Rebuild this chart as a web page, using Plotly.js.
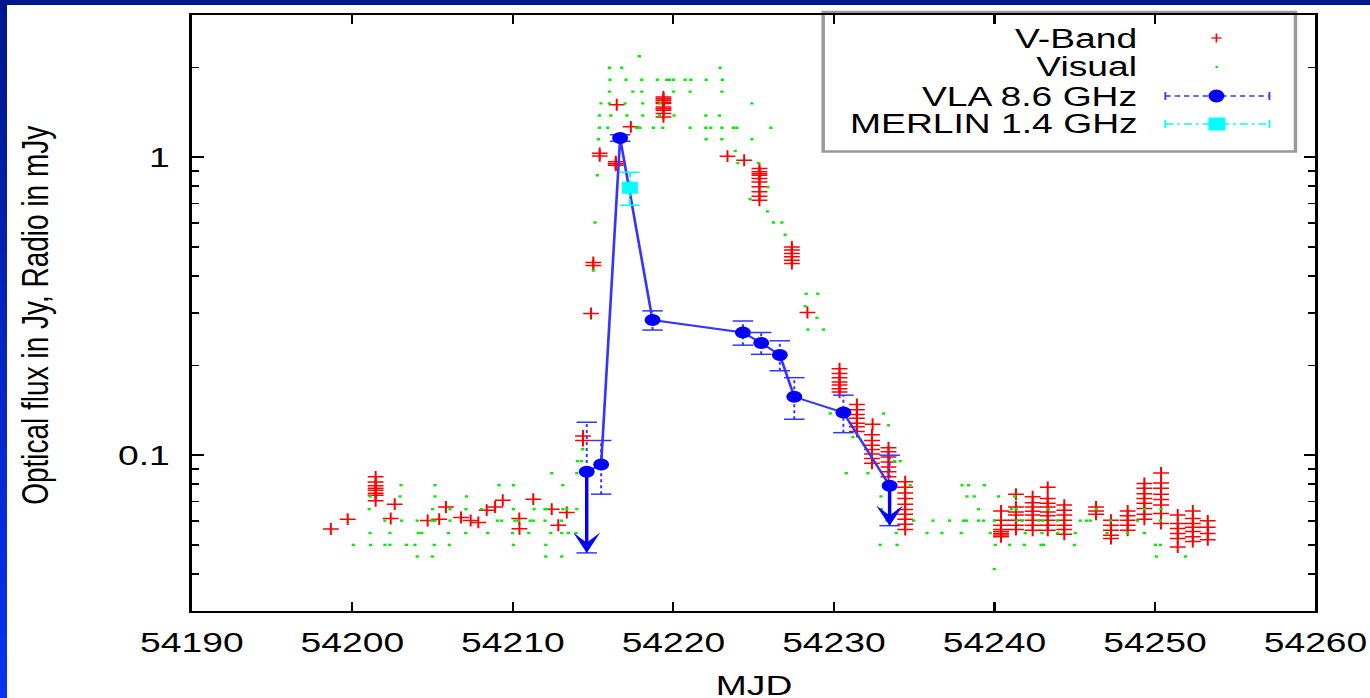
<!DOCTYPE html>
<html>
<head>
<meta charset="utf-8">
<script src="https://cdn.plot.ly/plotly-3.0.1.min.js"></script>
<style>
  html, body { margin: 0; padding: 0; width: 1370px; height: 698px; overflow: hidden;
    background: linear-gradient(180deg, #00168c 0%, #0733f2 100%); }
  #frame { position: absolute; left: 7px; top: 5px; width: 1363px; height: 693px; background: #fff; overflow: hidden; }
  #chart { position: absolute; left: 0; top: 0; width: 1025px; height: 693px; transform-origin: 0 0; }
</style>
</head>
<body>
<div id="frame"><div id="chart"></div></div>
<script>
// ---- V-band photometry (Jy), one line per night ----
const vbandMJD = [
  54198.66, 54199.71,
  54201.45, 54201.45, 54201.45, 54201.45, 54201.45, 54201.45, 54201.45, 54201.45,
  54202.39, 54202.64, 54204.69, 54205.41, 54205.83, 54206.77, 54207.37, 54207.85,
  54208.37, 54208.89, 54209.37, 54210.40, 54210.41, 54211.27, 54212.42, 54212.83, 54213.36,
  54214.37, 54214.37, 54214.87, 54215.01, 54215.01, 54215.41, 54215.41,
  54216.41, 54216.41, 54216.41, 54216.47, 54217.35,
  54219.38, 54219.38, 54219.38, 54219.38, 54219.38, 54219.38, 54219.38, 54219.38, 54219.38, 54219.38,
  54223.37, 54224.41,
  54225.36, 54225.36, 54225.36, 54225.36, 54225.36, 54225.36, 54225.36, 54225.36, 54225.36, 54225.36,
  54227.38, 54227.38, 54227.38, 54227.38, 54227.38, 54227.38,
  54228.35,
  54230.35, 54230.35, 54230.35, 54230.35, 54230.35, 54230.35, 54230.35,
  54231.43, 54231.43, 54231.43, 54231.43, 54231.43, 54231.43, 54231.43,
  54232.37, 54232.37, 54232.37, 54232.37, 54232.37, 54232.37, 54232.37, 54232.41,
  54233.40, 54233.40, 54233.40, 54233.40, 54233.40, 54233.40, 54233.40,
  54234.44, 54234.44, 54234.44, 54234.44, 54234.44, 54234.44, 54234.44, 54234.44, 54234.44, 54234.44,
  54240.41, 54240.41, 54240.41, 54240.41, 54240.41, 54240.41, 54240.41, 54240.41,
  54241.34, 54241.34, 54241.34, 54241.34, 54241.34, 54241.34, 54241.34,
  54242.38, 54242.38, 54242.38, 54242.38, 54242.38, 54242.38, 54242.38, 54242.38,
  54243.32, 54243.32, 54243.32, 54243.32, 54243.32, 54243.32, 54243.32, 54243.32, 54243.32,
  54244.35, 54244.35, 54244.35, 54244.35, 54244.35, 54244.35, 54244.35,
  54246.33, 54246.33, 54246.33,
  54247.26, 54247.26, 54247.26, 54247.26, 54247.26,
  54248.30, 54248.30, 54248.30, 54248.30, 54248.30,
  54249.34, 54249.34, 54249.34, 54249.34, 54249.34, 54249.34, 54249.34, 54249.34,
  54250.38, 54250.38, 54250.38, 54250.38, 54250.38, 54250.38, 54250.38, 54250.38,
  54251.42, 54251.42, 54251.42, 54251.42, 54251.42, 54251.42,
  54252.36, 54252.36, 54252.36, 54252.36, 54252.36, 54252.36, 54252.36,
  54253.29, 54253.29, 54253.29, 54253.29
];
const vbandFlux = [
  0.0565, 0.061,
  0.0846, 0.0813, 0.0790, 0.0775, 0.0763, 0.0745, 0.0734, 0.0703,
  0.0613, 0.0685, 0.0604, 0.061, 0.067, 0.0618, 0.0604, 0.0595,
  0.0654, 0.067, 0.0706, 0.0613, 0.0566, 0.0712, 0.0659, 0.0582, 0.0642,
  0.116, 0.112, 0.299, 0.443, 0.433, 1.03, 1.01,
  0.965, 0.95, 0.94, 1.50, 1.264,
  1.593, 1.57, 1.553, 1.53, 1.514, 1.475, 1.455, 1.438, 1.401, 1.365,
  1.008, 0.977,
  0.916, 0.893, 0.880, 0.870, 0.848, 0.826, 0.795, 0.765, 0.740, 0.717,
  0.500, 0.488, 0.475, 0.463, 0.451, 0.440,
  0.301,
  0.195, 0.188, 0.182, 0.176, 0.172, 0.167, 0.163,
  0.148, 0.142, 0.137, 0.133, 0.128, 0.1245, 0.120,
  0.117, 0.112, 0.108, 0.1045, 0.101, 0.0975, 0.094, 0.127,
  0.106, 0.1026, 0.0987, 0.0949, 0.0913, 0.0879, 0.0846,
  0.0814, 0.078, 0.0747, 0.0716, 0.0685, 0.0657, 0.0633, 0.0609, 0.0587, 0.0563,
  0.065, 0.0605, 0.0582, 0.0563, 0.0555, 0.0546, 0.054, 0.0532,
  0.074, 0.067, 0.0645, 0.063, 0.0605, 0.0582, 0.0563,
  0.0725, 0.0692, 0.067, 0.0649, 0.063, 0.0605, 0.0582, 0.056,
  0.078, 0.0716, 0.069, 0.067, 0.0645, 0.0626, 0.0605, 0.0582, 0.056,
  0.068, 0.0654, 0.063, 0.0605, 0.0582, 0.0563, 0.0543,
  0.067, 0.065, 0.0633,
  0.0605, 0.0582, 0.056, 0.0539, 0.0525,
  0.065, 0.0626, 0.0605, 0.0582, 0.056,
  0.0804, 0.0774, 0.0743, 0.0716, 0.069, 0.0662, 0.0633, 0.0609,
  0.0872, 0.0807, 0.0774, 0.074, 0.071, 0.068, 0.0637, 0.059,
  0.063, 0.059, 0.0568, 0.0546, 0.0525, 0.0492,
  0.065, 0.0613, 0.059, 0.0573, 0.0555, 0.0532, 0.0513,
  0.0602, 0.0573, 0.0546, 0.052
];

// ---- Visual estimates (Jy), one line per brightness step ----
const visualMJD = [
  54217.88,
  54216.01, 54216.78, 54222.91,
  54216.05, 54217.05, 54218.03, 54219.00, 54219.59, 54219.75, 54220.00, 54220.73, 54221.09, 54222.04, 54223.05,
  54216.01, 54217.47, 54218.03, 54220.00, 54221.04, 54223.02,
  54215.49, 54216.01, 54216.99, 54218.09, 54219.17, 54224.89,
  54215.39, 54216.10, 54217.10, 54218.09, 54219.13, 54220.04, 54222.02, 54222.87,
  54215.39, 54215.91, 54217.72, 54217.92, 54218.75, 54219.34, 54221.04, 54222.02, 54222.33, 54223.02, 54223.74, 54223.95, 54226.07,
  54215.33, 54222.04, 54223.02, 54224.89,
  54223.85,
  54224.02, 54225.30,
  54215.26,
  54225.88,
  54224.78,
  54225.86,
  54215.12, 54226.23, 54226.76,
  54226.96,
  54215.01,
  54228.27, 54228.99,
  54228.21,
  54228.94,
  54228.38, 54229.35,
  54229.77, 54233.09,
  54233.40,
  54231.18,
  54214.35,
  54214.02, 54214.27, 54233.78, 54234.13,
  54212.42, 54213.98, 54230.77, 54232.12,
  54203.03, 54205.15, 54209.14, 54210.03, 54213.11, 54234.75, 54237.98, 54238.39, 54239.37,
  54201.10, 54202.97, 54205.15, 54207.12, 54232.93, 54238.29, 54238.74, 54240.26, 54241.26,
  54201.05, 54205.00, 54206.08, 54207.08, 54208.06, 54210.03, 54211.32, 54212.00, 54212.11, 54213.11,
  54213.36, 54213.98, 54232.95, 54239.01, 54241.05, 54241.36, 54243.38, 54246.35, 54249.34, 54250.38,
  54202.03, 54203.07, 54204.04, 54204.94, 54205.15, 54206.08, 54209.03, 54209.30, 54210.13, 54210.34,
  54211.07, 54211.27, 54212.00, 54213.04, 54233.30, 54234.96, 54236.17, 54237.20, 54238.08, 54238.25,
  54239.01, 54239.32, 54239.99, 54241.40, 54241.72, 54242.75, 54243.03, 54243.94, 54245.35, 54245.73,
  54245.97, 54247.22, 54248.92, 54250.34,
  54201.10, 54202.34, 54204.11, 54204.32, 54205.98, 54207.06, 54208.43, 54209.97, 54210.99, 54212.36,
  54213.04, 54213.46, 54213.94, 54233.88, 54235.80, 54236.73, 54237.93, 54239.74, 54241.92, 54242.96,
  54243.94, 54245.04, 54247.02, 54248.30, 54249.34,
  54200.06, 54201.14, 54202.03, 54202.34, 54203.38, 54203.90, 54205.10, 54206.04, 54210.03, 54212.05,
  54232.88, 54233.93, 54240.05, 54240.94, 54241.86, 54242.90, 54243.06, 54244.98, 54250.03, 54250.34,
  54204.04, 54204.98, 54212.05, 54213.04, 54250.09, 54251.90,
  54239.99
];
const visualFlux = [
  2.18,
  1.995, 1.995, 1.995,
  1.82, 1.82, 1.82, 1.82, 1.82, 1.82, 1.82, 1.82, 1.82, 1.82, 1.82,
  1.66, 1.66, 1.66, 1.66, 1.66, 1.66,
  1.516, 1.516, 1.516, 1.516, 1.516, 1.516,
  1.38, 1.38, 1.38, 1.38, 1.38, 1.38, 1.38, 1.38,
  1.256, 1.256, 1.256, 1.256, 1.256, 1.256, 1.256, 1.256, 1.256, 1.256, 1.256, 1.256, 1.256,
  1.149, 1.149, 1.149, 1.149,
  1.05,
  0.955, 0.955,
  0.87,
  0.794,
  0.724,
  0.658,
  0.604, 0.604, 0.604,
  0.549,
  0.417,
  0.348, 0.348,
  0.316,
  0.289,
  0.264, 0.264,
  0.138, 0.138,
  0.126,
  0.115,
  0.1047,
  0.0955, 0.0955, 0.0955, 0.0955,
  0.087, 0.087, 0.087, 0.087,
  0.0793, 0.0793, 0.0793, 0.0793, 0.0793, 0.0793, 0.0793, 0.0793, 0.0793,
  0.0727, 0.0727, 0.0727, 0.0727, 0.0727, 0.0727, 0.0727, 0.0727, 0.0727,
  0.0659, 0.0659, 0.0659, 0.0659, 0.0659, 0.0659, 0.0659, 0.0659, 0.0659, 0.0659,
  0.0659, 0.0659, 0.0659, 0.0659, 0.0659, 0.0659, 0.0659, 0.0659, 0.0659, 0.0659,
  0.0603, 0.0603, 0.0603, 0.0603, 0.0603, 0.0603, 0.0603, 0.0603, 0.0603, 0.0603,
  0.0603, 0.0603, 0.0603, 0.0603, 0.0603, 0.0603, 0.0603, 0.0603, 0.0603, 0.0603,
  0.0603, 0.0603, 0.0603, 0.0603, 0.0603, 0.0603, 0.0603, 0.0603, 0.0603, 0.0603,
  0.0603, 0.0603, 0.0603, 0.0603,
  0.0548, 0.0548, 0.0548, 0.0548, 0.0548, 0.0548, 0.0548, 0.0548, 0.0548, 0.0548,
  0.0548, 0.0548, 0.0548, 0.0548, 0.0548, 0.0548, 0.0548, 0.0548, 0.0548, 0.0548,
  0.0548, 0.0548, 0.0548, 0.0548, 0.0548,
  0.050, 0.050, 0.050, 0.050, 0.050, 0.050, 0.050, 0.050, 0.050, 0.050,
  0.050, 0.050, 0.050, 0.050, 0.050, 0.050, 0.050, 0.050, 0.050, 0.050,
  0.0457, 0.0457, 0.0457, 0.0457, 0.0457, 0.0457,
  0.0415
];

// ---- VLA 8.6 GHz (mJy) ----
const vlaMJD   = [54214.60, 54215.50, 54216.68, 54218.70, 54224.33, 54225.47, 54226.63, 54227.53, 54230.59, 54233.47];
const vlaFlux  = [0.088, 0.093, 1.16, 0.284, 0.258, 0.238, 0.217, 0.157, 0.139, 0.079];
const vlaErr   = [0.041, 0.019, 0.03, 0.021, 0.024, 0.020, 0.025, 0.025, 0.020, 0.021];
const vlaLimit = [true, false, false, false, false, false, false, false, false, true];

// ---- MERLIN 1.4 GHz (mJy) ----
const merlinMJD  = [54217.29];
const merlinFlux = [0.79];
const merlinErr  = [0.10];

// ---- geometry: the plot is laid out narrow and stretched sideways ----
const W = 1025, H = 693, S = 1363 / W;
const M = { l: 185 / S, r: W - 1308 / S, t: 10, b: 87 };
const px = xf => ((xf - 7) / S - M.l) / (W - M.l - M.r);
const py = yf => 1 - ((yf - 5) - M.t) / (H - M.t - M.b);
document.getElementById('chart').style.transform = 'scaleX(' + S + ')';

const FONT = 'Liberation Sans, Arial, Helvetica, sans-serif';
const BLUE = '#0000ff', LBLUE = '#3535ff', CYAN = '#00ffff';

// error bar stems and caps built from value arrays
function stems(xs, ys, es) {
  const x = [], y = [];
  xs.forEach((v, i) => { x.push(v, v, null); y.push(ys[i] - es[i], ys[i] + es[i], null); });
  return { x, y };
}
function caps(xs, ys, es) {
  const x = [], y = [];
  xs.forEach((v, i) => { x.push(v, v); y.push(ys[i] - es[i], ys[i] + es[i]); });
  return { x, y };
}
const vlaStem = stems(vlaMJD, vlaFlux, vlaErr), vlaCap = caps(vlaMJD, vlaFlux, vlaErr);
const merStem = stems(merlinMJD, merlinFlux, merlinErr), merCap = caps(merlinMJD, merlinFlux, merlinErr);

const traces = [
  { name: 'V-Band', x: vbandMJD, y: vbandFlux, type: 'scatter', mode: 'markers',
    marker: { symbol: 'cross-thin-open', size: 8.5, color: '#ff0000', line: { width: 1.5, color: '#ff0000' } } },
  { name: 'Visual', x: visualMJD, y: visualFlux, type: 'scatter', mode: 'markers',
    marker: { symbol: 'square', size: 2.4, color: '#00ee00', line: { width: 0 } } },
  { x: vlaStem.x, y: vlaStem.y, type: 'scatter', mode: 'lines', connectgaps: false,
    line: { color: LBLUE, width: 1.5, dash: '3px,3px' } },
  { x: vlaCap.x, y: vlaCap.y, type: 'scatter', mode: 'markers',
    marker: { symbol: 'line-ew-open', size: 11, color: LBLUE, line: { color: LBLUE, width: 1.5 } } },
  { name: 'VLA 8.6 GHz', x: vlaMJD, y: vlaFlux, type: 'scatter', mode: 'lines+markers',
    line: { color: LBLUE, width: 2 }, marker: { symbol: 'circle', size: 12, color: BLUE } },
  { x: merStem.x, y: merStem.y, type: 'scatter', mode: 'lines', connectgaps: false,
    line: { color: CYAN, width: 1.5, dash: '6px,3px,2px,3px' } },
  { x: merCap.x, y: merCap.y, type: 'scatter', mode: 'markers',
    marker: { symbol: 'line-ew-open', size: 10.5, color: CYAN, line: { color: CYAN, width: 1.5 } } },
  { name: 'MERLIN 1.4 GHz', x: merlinMJD, y: merlinFlux, type: 'scatter', mode: 'markers',
    marker: { symbol: 'square', size: 12, color: CYAN } }
];

// downward arrows on the upper-limit radio points
const annotations = [];
vlaMJD.forEach((m, i) => {
  if (!vlaLimit[i]) return;
  annotations.push({ x: m, y: Math.log10(vlaFlux[i] - vlaErr[i]), ax: m, ay: Math.log10(vlaFlux[i]),
    xref: 'x', yref: 'y', axref: 'x', ayref: 'y', text: '', showarrow: true,
    arrowhead: 3, arrowsize: 1.3, arrowwidth: 2.6, arrowcolor: BLUE, standoff: 0, startstandoff: 0 });
});

// axis titles
annotations.push({ text: 'Optical flux in Jy, Radio in mJy', textangle: -90, xref: 'paper', yref: 'paper',
  x: px(35), y: py(315), xanchor: 'center', yanchor: 'middle', showarrow: false,
  font: { family: FONT, size: 28, color: '#000' } });
annotations.push({ text: 'MJD', xref: 'paper', yref: 'paper', x: 0.5, y: py(685),
  xanchor: 'center', yanchor: 'middle', showarrow: false, font: { family: FONT, size: 28, color: '#000' } });

// key: labels right-aligned, samples to their right
const keyLabels = ['V-Band', 'Visual', 'VLA 8.6 GHz', 'MERLIN 1.4 GHz'];
const keyRows = [38, 67, 96, 124];
keyLabels.forEach((t, i) => annotations.push({ text: t, xref: 'paper', yref: 'paper', x: px(1140), y: py(keyRows[i]),
  xanchor: 'right', yanchor: 'middle', height: 27, showarrow: false, font: { family: FONT, size: 28, color: '#000' } }));

const P = { xref: 'paper', yref: 'paper' };
const seg = (x0, y0, x1, y1, color, width, dash) => Object.assign({ type: 'line', x0: px(x0), y0: py(y0), x1: px(x1), y1: py(y1),
  line: { color, width, dash: dash || 'solid' }, layer: 'above' }, P);
const box = (type, x0, y0, x1, y1, color) => Object.assign({ type, x0: px(x0), y0: py(y1), x1: px(x1), y1: py(y0),
  fillcolor: color, line: { width: 0 }, layer: 'above' }, P);

const shapes = [
  Object.assign({ type: 'rect', x0: px(823), y0: py(151.5), x1: px(1295), y1: py(12),
    line: { color: '#999999', width: 2.6 }, fillcolor: '#ffffff', layer: 'below' }, P),
  seg(1211, 38, 1221, 38, '#ff0000', 1.3), seg(1216, 33.5, 1216, 42.5, '#ff0000', 1.3),
  box('rect', 1215, 66, 1217.5, 68, '#00ee00'),
  seg(1165, 96, 1269, 96, LBLUE, 1.4, '4px,3px'), seg(1165, 92, 1165, 100, LBLUE, 1.4), seg(1269, 92, 1269, 100, LBLUE, 1.4),
  box('circle', 1208, 89.5, 1224, 102.5, BLUE),
  seg(1165, 124, 1269, 124, CYAN, 1.4, '6px,3px,2px,3px'), seg(1165, 120, 1165, 128, CYAN, 1.4), seg(1269, 120, 1269, 128, CYAN, 1.4),
  box('rect', 1208, 117.5, 1225, 130.5, CYAN)
];

const axisCommon = { showline: true, linewidth: 2, linecolor: '#000', mirror: 'ticks', ticks: 'inside',
  tickcolor: '#000', tickwidth: 1.6, showgrid: false, zeroline: false,
  tickfont: { family: FONT, size: 28, color: '#000' } };

const layout = {
  width: W, height: H, autosize: false, showlegend: false,
  paper_bgcolor: '#ffffff', plot_bgcolor: '#ffffff',
  margin: { l: M.l, r: M.r, t: M.t, b: M.b, pad: 0 },
  xaxis: Object.assign({}, axisCommon, { range: [54190, 54260], tickmode: 'linear', tick0: 54190, dtick: 10,
    tickformat: 'd', ticklen: 9, ticklabelstandoff: 5 }),
  yaxis: Object.assign({}, axisCommon, { type: 'log', range: [Math.log10(0.03), Math.log10(3)],
    tickmode: 'array', tickvals: [0.1, 1], ticktext: ['0.1', '1'], ticklen: 9, ticklabelstandoff: 9,
    minor: { tickmode: 'array', tickvals: [0.04, 0.05, 0.06, 0.07, 0.08, 0.09, 0.2, 0.3, 0.4, 0.5, 0.6, 0.7, 0.8, 0.9, 2],
      ticks: 'inside', ticklen: 5.3, tickwidth: 1.6, tickcolor: '#000' } }),
  annotations, shapes
};

Plotly.newPlot('chart', traces, layout, { staticPlot: true, displayModeBar: false });
</script>
</body>
</html>
